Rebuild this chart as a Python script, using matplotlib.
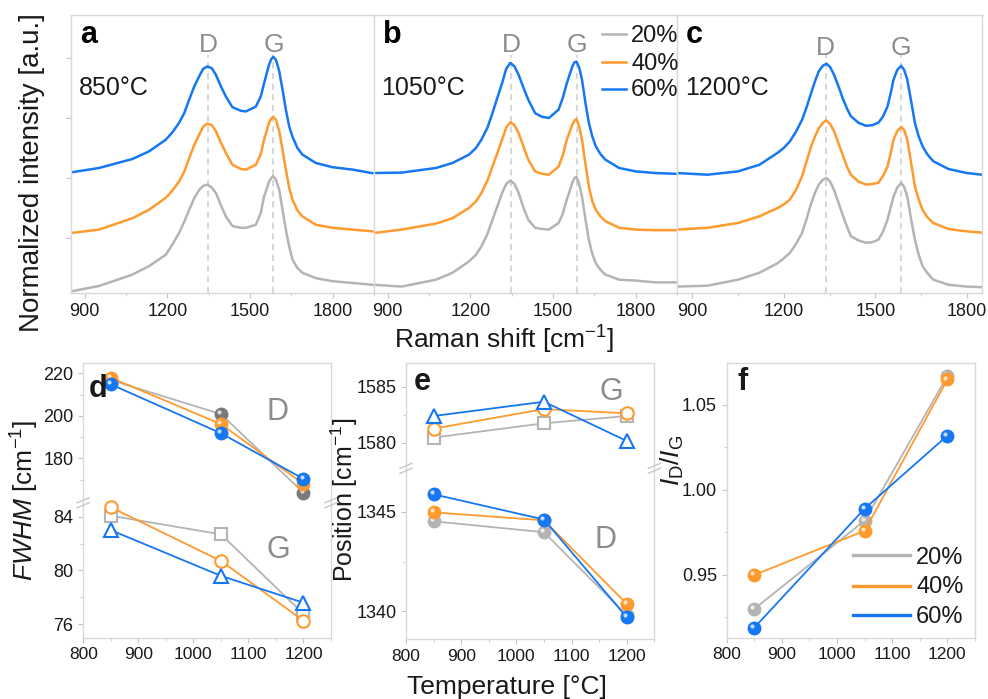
import matplotlib
matplotlib.use("Agg")
import matplotlib.pyplot as plt
from matplotlib.lines import Line2D
from matplotlib.transforms import offset_copy
from matplotlib.ticker import MultipleLocator, FormatStrFormatter, FixedLocator

plt.rcParams.update({
    "font.family": ["Liberation Sans", "DejaVu Sans"],
    "mathtext.fontset": "custom",
    "mathtext.rm": "Liberation Sans",
    "mathtext.it": "Liberation Sans:italic",
    "mathtext.bf": "Liberation Sans:bold",
    "axes.edgecolor": "#d9d9d9",
    "axes.linewidth": 1.0,
    "xtick.color": "#c4c4c4",
    "ytick.color": "#c4c4c4",
    "xtick.labelcolor": "#1a1a1a",
    "ytick.labelcolor": "#1a1a1a",
    "xtick.direction": "out",
    "ytick.direction": "out",
    "text.color": "#1a1a1a",
})

GRAY = "#b4b4b4"
ORANGE = "#ff9a2e"
BLUE = "#1677f2"
COLORS = [GRAY, ORANGE, BLUE]
LEVELS = ["20%", "40%", "60%"]

# ---------- Raman spectra (a, b, c), order: 20%, 40%, 60% ----------
shift_a = [850, 952, 1073, 1133, 1194, 1218, 1242, 1261, 1279, 1297, 1315, 1330, 1345,
           1361, 1376, 1394, 1412, 1436, 1467, 1485, 1521, 1539, 1551, 1569, 1577, 1584,
           1594, 1606, 1618, 1630, 1642, 1654, 1672, 1690, 1739, 1799, 1872, 1945]
spec_a = [
    [0.11, 0.20, 0.39, 0.53, 0.72, 0.89, 1.08, 1.27, 1.47, 1.66, 1.80, 1.87, 1.89,
     1.84, 1.75, 1.55, 1.36, 1.20, 1.17, 1.17, 1.22, 1.42, 1.69, 1.94, 2.00, 2.03,
     1.97, 1.80, 1.47, 1.14, 0.86, 0.64, 0.50, 0.42, 0.33, 0.28, 0.25, 0.22],
    [1.083, 1.14, 1.33, 1.47, 1.67, 1.79, 1.94, 2.105, 2.33, 2.545, 2.72, 2.855, 2.905,
     2.88, 2.78, 2.59, 2.42, 2.22, 2.15, 2.14, 2.22, 2.40, 2.64, 2.92, 2.99, 3.02,
     2.97, 2.78, 2.47, 2.14, 1.84, 1.64, 1.46, 1.36, 1.22, 1.17, 1.14, 1.11],
    [2.093, 2.167, 2.317, 2.443, 2.638, 2.76, 2.917, 3.08, 3.305, 3.52, 3.693, 3.82, 3.86,
     3.83, 3.72, 3.53, 3.36, 3.18, 3.12, 3.11, 3.19, 3.36, 3.58, 3.89, 3.98, 4.02,
     3.97, 3.78, 3.47, 3.14, 2.86, 2.69, 2.50, 2.39, 2.25, 2.18, 2.14, 2.08],
]

shift_b = [850, 950, 1075, 1135, 1195, 1220, 1240, 1262, 1280, 1298, 1315, 1330, 1345,
           1360, 1375, 1393, 1410, 1435, 1460, 1485, 1520, 1535, 1550, 1570, 1578, 1585,
           1595, 1605, 1618, 1630, 1642, 1655, 1672, 1690, 1740, 1800, 1870, 1945]
spec_b = [
    [0.22, 0.19, 0.305, 0.42, 0.61, 0.72, 0.86, 1.07, 1.305, 1.53, 1.75, 1.90, 1.96,
     1.90, 1.75, 1.50, 1.305, 1.17, 1.15, 1.14, 1.25, 1.40, 1.64, 1.92, 2.00, 2.02,
     1.90, 1.69, 1.30, 0.97, 0.74, 0.58, 0.47, 0.39, 0.305, 0.29, 0.26, 0.26],
    [1.083, 1.14, 1.24, 1.33, 1.50, 1.61, 1.75, 1.96, 2.19, 2.42, 2.64, 2.84, 2.93,
     2.88, 2.75, 2.52, 2.305, 2.11, 2.07, 2.055, 2.19, 2.37, 2.64, 2.89, 2.96, 2.98,
     2.85, 2.64, 2.22, 1.86, 1.62, 1.47, 1.36, 1.28, 1.17, 1.14, 1.13, 1.13],
    [2.083, 2.09, 2.167, 2.25, 2.39, 2.50, 2.64, 2.84, 3.08, 3.34, 3.58, 3.82, 3.92,
     3.86, 3.72, 3.50, 3.305, 3.08, 3.02, 3.00, 3.14, 3.33, 3.58, 3.86, 3.93, 3.94,
     3.84, 3.64, 3.24, 2.92, 2.70, 2.53, 2.40, 2.305, 2.167, 2.11, 2.083, 2.07],
]

shift_c = [850, 950, 1050, 1120, 1180, 1200, 1220, 1240, 1260, 1275, 1290, 1303, 1315,
           1328, 1340, 1352, 1365, 1380, 1395, 1408, 1420, 1445, 1470, 1490, 1510, 1525,
           1540, 1550, 1560, 1572, 1585, 1595, 1605, 1617, 1630, 1642, 1655, 1670, 1690,
           1740, 1800, 1850]
spec_c = [
    [0.19, 0.205, 0.305, 0.42, 0.58, 0.66, 0.75, 0.90, 1.083, 1.32, 1.58, 1.76, 1.89,
     1.97, 2.00, 1.94, 1.80, 1.58, 1.36, 1.18, 1.03, 0.96, 0.92, 0.93, 0.97, 1.10,
     1.305, 1.50, 1.69, 1.84, 1.92, 1.85, 1.69, 1.33, 0.97, 0.73, 0.53, 0.42, 0.305,
     0.22, 0.19, 0.18],
    [1.14, 1.17, 1.25, 1.36, 1.50, 1.56, 1.64, 1.80, 2.03, 2.28, 2.53, 2.70, 2.83,
     2.92, 2.96, 2.90, 2.78, 2.57, 2.36, 2.18, 2.055, 1.94, 1.89, 1.90, 1.92, 2.03,
     2.19, 2.40, 2.64, 2.78, 2.85, 2.80, 2.64, 2.27, 1.86, 1.65, 1.47, 1.35, 1.25,
     1.15, 1.11, 1.09],
    [2.083, 2.055, 2.11, 2.22, 2.42, 2.50, 2.61, 2.77, 2.97, 3.18, 3.42, 3.62, 3.78,
     3.87, 3.905, 3.85, 3.72, 3.52, 3.305, 3.15, 3.03, 2.92, 2.87, 2.88, 2.92, 3.02,
     3.19, 3.40, 3.64, 3.80, 3.87, 3.80, 3.64, 3.30, 2.92, 2.70, 2.53, 2.40, 2.28,
     2.15, 2.083, 2.055],
]

temp_labels = ["850°C", "1050°C", "1200°C"]
peak_D = [1348, 1348, 1337]
peak_G = [1585, 1586, 1585]

# ---------- fitted parameters vs temperature (d, e, f) ----------
temps = [850, 1050, 1200]
fwhm_D = [[216.8, 200.8, 163.8], [217.9, 196.1, 167.9], [214.8, 191.8, 170.3]]
fwhm_G = [[84.07, 82.69, 76.77], [84.70, 80.71, 76.27], [83.00, 79.60, 77.60]]
pos_G = [[1580.45, 1581.73, 1582.38], [1581.25, 1583.00, 1582.62], [1582.38, 1583.66, 1580.15]]
pos_D = [[1344.53, 1343.98, 1339.80], [1344.98, 1344.58, 1340.37], [1345.89, 1344.62, 1339.70]]
id_ig = [[0.930, 0.982, 1.067], [0.950, 0.976, 1.065], [0.919, 0.989, 1.032]]

W, H = 988, 699
fig = plt.figure(figsize=(W / 100, H / 100), dpi=100)


def fx(x):
    return x / W


def fy(y):
    return 1 - y / H


def add_ax(l, t, r, b):
    return fig.add_axes([l / W, 1 - b / H, (r - l) / W, (b - t) / H])


def ftext(x, y, s, **kw):
    fig.text(fx(x), fy(y), s, **kw)


# ---------- top row ----------
top_boxes = [(71, 374, (850, 1950)), (374, 677, (850, 1950)), (677, 982, (850, 1850))]
shifts = [shift_a, shift_b, shift_c]
specs = [spec_a, spec_b, spec_c]
letters = ["a", "b", "c"]
for i, (l, r, xl) in enumerate(top_boxes):
    ax = add_ax(l, 15, r, 293)
    ax.set_xlim(*xl)
    ax.set_ylim(0.083, 4.717)
    for c, ys in zip(COLORS, specs[i]):
        ax.plot(shifts[i], ys, color=c, lw=1.8, solid_joinstyle="round")
    for xp in (peak_D[i], peak_G[i]):
        ax.plot([xp, xp], [0.083, 4.05], color="#cccccc", lw=1.1, ls=(0, (4, 3)), zorder=0)
    ytxt = 4.1 if i < 2 else 4.05
    ax.text(peak_D[i], ytxt, "D", color="#8c8c8c", fontsize=19, ha="center", va="baseline")
    ax.text(peak_G[i], ytxt, "G", color="#8c8c8c", fontsize=19, ha="center", va="baseline")
    ax.xaxis.set_major_locator(MultipleLocator(300))
    ax.xaxis.set_minor_locator(MultipleLocator(150))
    ax.tick_params(axis="x", which="major", length=3.5, labelsize=13, pad=4)
    ax.tick_params(axis="x", which="minor", length=2.5)
    if i == 0:
        ax.set_yticks([1, 2, 3, 4])
        ax.set_yticklabels([])
        ax.tick_params(axis="y", length=3.5)
    else:
        ax.set_yticks([])
    ax.text(0.03, 1 - 28 / 278, letters[i], transform=ax.transAxes, fontsize=22,
            fontweight="bold", ha="left", va="baseline", color="black")
    ax.text(0.025, 1 - 80 / 278, temp_labels[i], transform=ax.transAxes, fontsize=18,
            ha="left", va="baseline")

# legend for spectra (panel b)
for k, (c, lab) in enumerate(zip(COLORS, LEVELS)):
    yl = [33.5, 62, 88.5][k]
    fig.add_artist(Line2D([fx(602), fx(626)], [fy(yl), fy(yl)], color=c, lw=1.8))
    ftext(631, [41.5, 70, 96.5][k], lab, fontsize=17, ha="left", va="baseline")

ftext(32, 173, "Normalized intensity [a.u.]", rotation=90, fontsize=20, ha="center", va="center")
ftext(504, 340, "Raman shift [cm$^{-1}$]", fontsize=19, ha="center", va="center")


# ---------- bottom row helpers ----------
def style_bottom(ax, show_x):
    ax.set_xlim(800, 1250)
    ax.xaxis.set_major_locator(MultipleLocator(100))
    ax.xaxis.set_minor_locator(MultipleLocator(50))
    ax.tick_params(which="major", length=3.5, labelsize=12.5)
    ax.tick_params(which="minor", length=2.5)
    if not show_x:
        ax.tick_params(axis="x", which="both", bottom=False, labelbottom=False)


def sphere(ax, x, y, color, lw=1.3, lcolor=None, z=3):
    ax.plot(x, y, color=lcolor or color, lw=lw, zorder=z)
    ax.plot(x, y, ls="none", marker="o", ms=9, mfc=color, mec=color, zorder=z + 0.1, clip_on=False)
    hl = offset_copy(ax.transData, fig=fig, x=-1.4, y=1.4, units="points")
    ax.plot(x, y, ls="none", marker="o", ms=3, mfc="white", mec="none", alpha=0.75,
            transform=hl, zorder=z + 0.2, clip_on=False)


def open_marks(ax, ys_list, z=3):
    marks = [("s", 8), ("o", 9), ("^", 10)]
    for k, (c, ys) in enumerate(zip(COLORS, ys_list)):
        m, ms = marks[k]
        ax.plot(temps, ys, color=c, lw=1.3, marker=m, ms=ms, mfc="white", mec=c, mew=1.5,
                zorder=z + k, clip_on=False)


def break_mark(xp, yp):
    for d in (-2.5, 2.5):
        fig.add_artist(Line2D([fx(xp - 6), fx(xp + 6)], [fy(yp + 2.5 + d), fy(yp - 2.5 + d)],
                              color="#c8c8c8", lw=1.0))


# panel d
d_top = add_ax(83.3, 363.3, 331, 502.7)
d_bot = add_ax(83.3, 502.7, 331, 637.7)
d_top.set_ylim(159.1, 224.7)
d_bot.set_ylim(75.0, 85.04)
d_top.spines["bottom"].set_visible(False)
d_bot.spines["top"].set_visible(False)
style_bottom(d_top, False)
style_bottom(d_bot, True)
d_top.yaxis.set_major_locator(FixedLocator([180, 200, 220]))
d_top.yaxis.set_minor_locator(FixedLocator([170, 190, 210]))
d_bot.yaxis.set_major_locator(MultipleLocator(4))
d_bot.yaxis.set_minor_locator(MultipleLocator(2))
d_top.tick_params(axis="y", labelsize=13)
d_bot.tick_params(axis="y", labelsize=13)
d_marker = ["#7a7a7a", ORANGE, BLUE]
for k in range(3):
    sphere(d_top, temps, fwhm_D[k], d_marker[k], lcolor=COLORS[k], z=3 + k)
open_marks(d_bot, fwhm_G)
break_mark(83.3, 502.7)
break_mark(331, 502.7)
ftext(277.5, 420, "D", fontsize=22, color="#8c8c8c", ha="center", va="baseline")
ftext(278, 558, "G", fontsize=22, color="#8c8c8c", ha="center", va="baseline")
ftext(89, 397, "d", fontsize=22, fontweight="bold", ha="left", va="baseline", zorder=10)
ftext(25, 500, "$\\mathit{FWHM}$ [cm$^{-1}$]", rotation=90, fontsize=19, ha="center", va="center")

# panel e
e_top = add_ax(406, 363.3, 654.3, 468.3)
e_bot = add_ax(406, 468.3, 654.3, 639)
e_top.set_ylim(1577.7, 1587.1)
e_bot.set_ylim(1338.6, 1347.2)
e_top.spines["bottom"].set_visible(False)
e_bot.spines["top"].set_visible(False)
style_bottom(e_top, False)
style_bottom(e_bot, True)
e_top.yaxis.set_major_locator(MultipleLocator(5))
e_top.yaxis.set_minor_locator(MultipleLocator(2.5))
e_bot.yaxis.set_major_locator(MultipleLocator(5))
e_bot.yaxis.set_minor_locator(MultipleLocator(2.5))
e_top.tick_params(axis="y", labelsize=13)
e_bot.tick_params(axis="y", labelsize=13)
open_marks(e_top, pos_G)
for k in range(3):
    sphere(e_bot, temps, pos_D[k], COLORS[k], z=3 + k)
break_mark(406, 468.3)
break_mark(654.3, 468.3)
ftext(611.7, 399.5, "G", fontsize=22, color="#8c8c8c", ha="center", va="baseline")
ftext(605.5, 548.5, "D", fontsize=22, color="#8c8c8c", ha="center", va="baseline")
ftext(414, 390, "e", fontsize=22, fontweight="bold", ha="left", va="baseline")
ftext(344, 500, "Position [cm$^{-1}$]", rotation=90, fontsize=18, ha="center", va="center")
ftext(507, 687, "Temperature [°C]", fontsize=19, ha="center", va="center")

# panel f
f_ax = add_ax(726.7, 363.3, 975, 637.7)
f_ax.set_ylim(0.9131, 1.0745)
style_bottom(f_ax, True)
f_ax.yaxis.set_major_locator(MultipleLocator(0.05))
f_ax.yaxis.set_minor_locator(MultipleLocator(0.025))
f_ax.yaxis.set_major_formatter(FormatStrFormatter("%.2f"))
f_ax.tick_params(axis="y", labelsize=13)
for k in range(3):
    sphere(f_ax, temps, id_ig[k], COLORS[k], z=3 + k)
ftext(737, 390, "f", fontsize=22, fontweight="bold", ha="left", va="baseline")
ftext(672, 460, "$I_\\mathrm{D}/I_\\mathrm{G}$", rotation=90, fontsize=19, ha="center", va="center")
for k, (c, lab) in enumerate(zip(COLORS, LEVELS)):
    yl = [555, 585.5, 615][k]
    fig.add_artist(Line2D([fx(853), fx(910)], [fy(yl), fy(yl)], color=c, lw=2.4))
    ftext(916, [564, 593, 623][k], lab, fontsize=17, ha="left", va="baseline")

fig.savefig("out.png", dpi=100)
